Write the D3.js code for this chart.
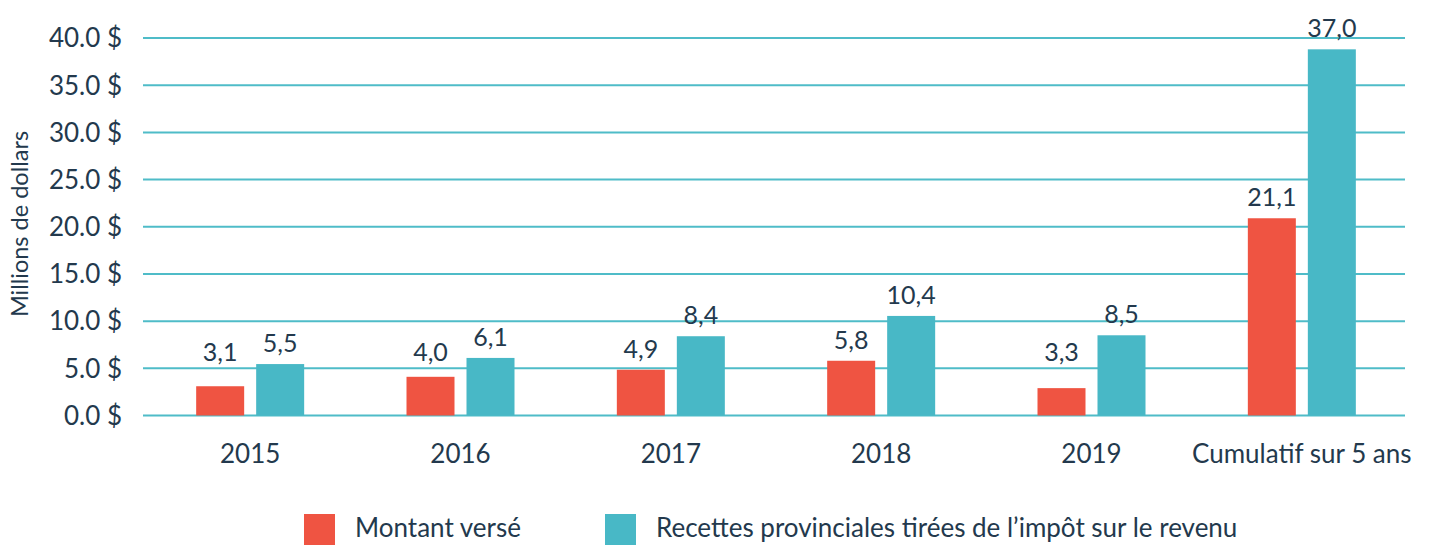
<!DOCTYPE html>
<html>
<head>
<meta charset="utf-8">
<script src="https://cdn.jsdelivr.net/npm/d3@7"></script>
<style>
  body { margin: 0; background: #fff; }
  svg text { font-family: Lato, "Open Sans", sans-serif; fill: #23394d; }
</style>
</head>
<body>
<svg id="chart" width="1429" height="546"></svg>
<script>
var categories = ["2015", "2016", "2017", "2018", "2019", "Cumulatif sur 5 ans"];
var montant = [3.1, 4.1, 4.85, 5.8, 2.9, 20.9];
var recettes = [5.45, 6.1, 8.4, 10.55, 8.5, 38.8];
var montantLabels = ["3,1", "4,0", "4,9", "5,8", "3,3", "21,1"];
var recettesLabels = ["5,5", "6,1", "8,4", "10,4", "8,5", "37,0"];
var yTicks = [0, 5, 10, 15, 20, 25, 30, 35, 40];
var seriesNames = ["Montant versé", "Recettes provinciales tirées de l’impôt sur le revenu"];
var colors = ["#ef5442", "#48b8c6"];

var svg = d3.select("#chart");

var x = d3.scaleBand()
  .domain(categories)
  .range([145, 1407]);

var y = d3.scaleLinear()
  .domain([0, 40])
  .range([415.5, 38]);

var barW = 48, gap = 12;

// gridlines
svg.append("g")
  .selectAll("line")
  .data(yTicks)
  .enter()
  .append("line")
  .attr("x1", 143)
  .attr("x2", 1405)
  .attr("y1", d => y(d))
  .attr("y2", d => y(d))
  .attr("stroke", "#4fbcc8")
  .attr("stroke-width", 2);

// y tick labels
svg.append("g")
  .selectAll("text")
  .data(yTicks)
  .enter()
  .append("text")
  .attr("x", 122)
  .attr("y", d => y(d))
  .attr("dy", "0.36em")
  .attr("text-anchor", "end")
  .style("font-size", "26px")
  .text(d => d.toFixed(1) + " $");

svg.append("text")
  .attr("transform", "translate(28,224) rotate(-90)")
  .attr("text-anchor", "middle")
  .style("font-size", "23.5px")
  .text("Millions de dollars");

var series = [
  { values: montant, labels: montantLabels, offset: -gap / 2 - barW },
  { values: recettes, labels: recettesLabels, offset: gap / 2 }
];

series.forEach(function(s, i) {
  var g = svg.append("g");
  g.selectAll("rect")
    .data(s.values)
    .enter()
    .append("rect")
    .attr("x", (d, j) => x(categories[j]) + x.bandwidth() / 2 + s.offset)
    .attr("y", d => y(d))
    .attr("width", barW)
    .attr("height", d => y(0) - y(d))
    .attr("fill", colors[i]);

  // labels sit above the bar, but never lower than the 5.0 gridline area
  g.selectAll("text")
    .data(s.values)
    .enter()
    .append("text")
    .attr("x", (d, j) => x(categories[j]) + x.bandwidth() / 2 + s.offset + barW / 2)
    .attr("y", d => Math.min(y(d) - 12, 361))
    .attr("text-anchor", "middle")
    .style("font-size", "25px")
    .text((d, j) => s.labels[j]);
});

// x labels
svg.append("g")
  .selectAll("text")
  .data(categories)
  .enter()
  .append("text")
  .attr("x", d => x(d) + x.bandwidth() / 2)
  .attr("y", 463)
  .attr("text-anchor", "middle")
  .style("font-size", "26px")
  .text(d => d);

// legend
var legendX = [304, 605];
var legend = svg.append("g")
  .selectAll("g")
  .data(seriesNames)
  .enter()
  .append("g")
  .attr("transform", (d, i) => "translate(" + legendX[i] + ",514)");

legend.append("rect")
  .attr("width", 31)
  .attr("height", 31)
  .attr("fill", (d, i) => colors[i]);

legend.append("text")
  .attr("x", 51)
  .attr("y", 23)
  .style("font-size", "26px")
  .text(d => d);
</script>
</body>
</html>
